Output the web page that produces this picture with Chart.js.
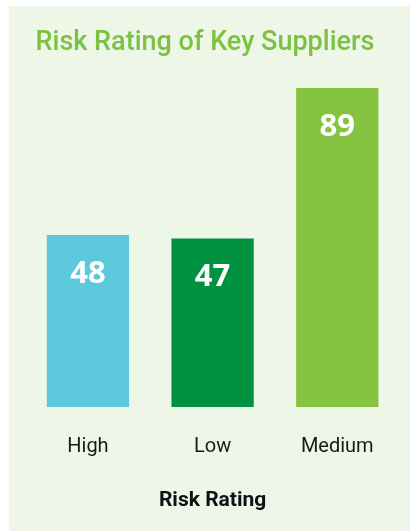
<!DOCTYPE html>
<html>
<head>
<meta charset="utf-8">
<script src="https://cdn.jsdelivr.net/npm/chart.js@4"></script>
<style>
  html, body { margin: 0; padding: 0; background: #ffffff; }
  #wrap { position: relative; width: 410px; height: 531px; overflow: hidden; }
  #panel { position: absolute; left: 9px; top: 6px; right: 0; bottom: 0; background: #eef6e8; }
  #c { position: absolute; left: 0; top: 0; }
</style>
</head>
<body>
<div id="wrap">
  <div id="panel"></div>
  <canvas id="c" width="410" height="531"></canvas>
</div>
<script>
const chartTitle = "Risk Rating of Key Suppliers";
const axisTitle = "Risk Rating";
const categories = ["High", "Low", "Medium"];
const values = [48, 47, 89];
const barColors = ["#5bc8db", "#009241", "#84c441"];

const valueLabels = {
  id: 'valueLabels',
  afterDatasetsDraw(chart) {
    const ctx = chart.ctx;
    const meta = chart.getDatasetMeta(0);
    ctx.save();
    ctx.fillStyle = '#ffffff';
    ctx.font = 'bold 31px "Open Sans", Roboto, sans-serif';
    ctx.textAlign = 'center';
    ctx.textBaseline = 'middle';
    meta.data.forEach((el, i) => {
      ctx.fillText(String(values[i]), el.x, el.y + 39);
    });
    ctx.restore();
  }
};

new Chart(document.getElementById('c'), {
  type: 'bar',
  data: {
    labels: categories,
    datasets: [{
      data: values,
      backgroundColor: barColors,
      borderWidth: 0,
      barPercentage: 1,
      categoryPercentage: 0.66
    }]
  },
  options: {
    responsive: false,
    animation: false,
    devicePixelRatio: 1,
    layout: { padding: 0 },
    plugins: {
      legend: { display: false },
      tooltip: { enabled: false },
      title: {
        display: true,
        text: chartTitle,
        color: '#7cc242',
        font: { family: 'Roboto', size: 27, weight: '500' },
        padding: { top: 26.8, bottom: 28.8 }
      }
    },
    scales: {
      x: {
        grid: { display: false, drawTicks: false },
        border: { display: false },
        ticks: {
          color: '#1a1a1a',
          font: { family: 'Roboto', size: 20 },
          padding: 28
        },
        title: {
          display: true,
          text: axisTitle,
          color: '#111111',
          font: { family: 'Roboto', size: 21, weight: 'bold' },
          padding: { top: 1.4, bottom: 17.4 }
        }
      },
      y: {
        min: 0,
        max: 89,
        display: true,
        grid: { display: false, drawTicks: false },
        border: { display: false },
        ticks: { display: false },
        afterFit(scale) { scale.width = 25.6; }
      },
      y1: {
        position: 'right',
        display: true,
        grid: { display: false, drawTicks: false },
        border: { display: false },
        ticks: { display: false },
        afterFit(scale) { scale.width = 10.4; }
      }
    }
  },
  plugins: [valueLabels]
});
</script>
</body>
</html>
